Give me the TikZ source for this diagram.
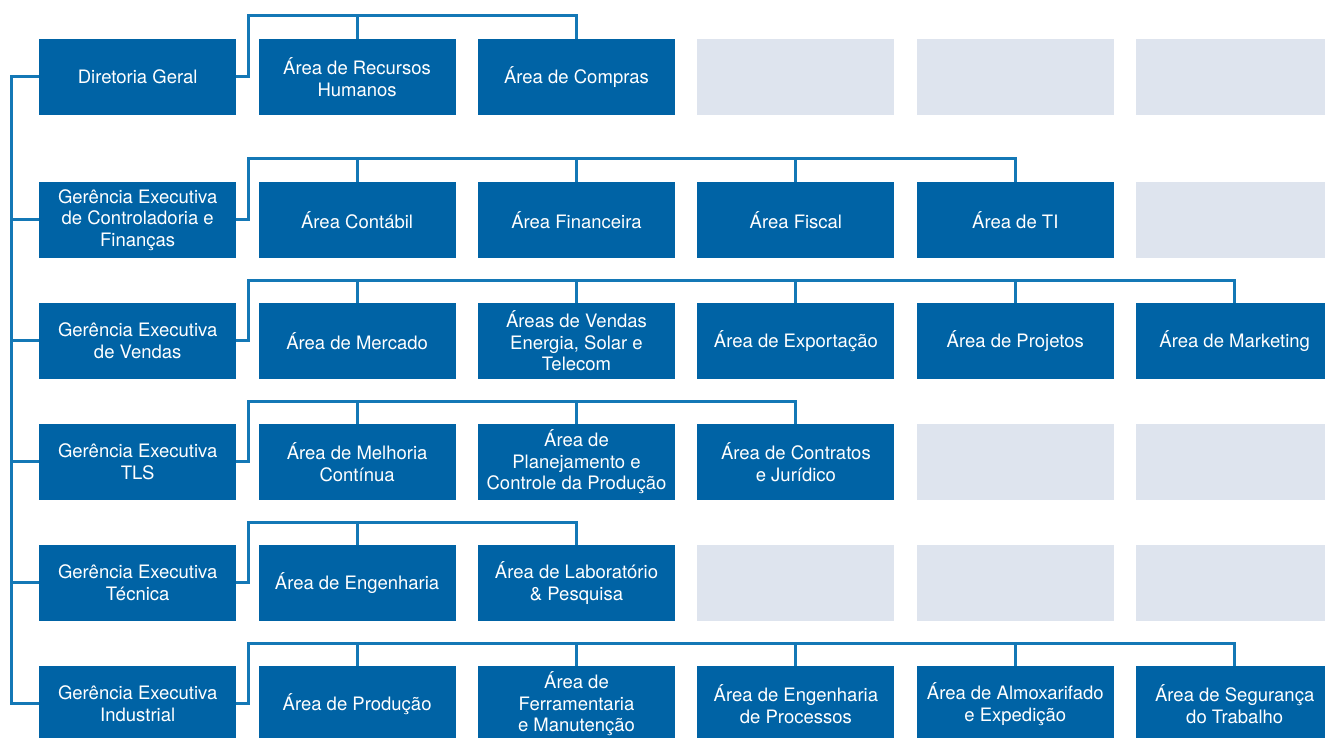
\documentclass[tikz,border=0pt]{standalone}
\usepackage{fontspec}
\setmainfont{TeX Gyre Heros}
\usetikzlibrary{calc}
\definecolor{boxblue}{RGB}{0,99,165}
\definecolor{lineblue}{RGB}{20,120,182}
\definecolor{ghost}{RGB}{222,228,238}
\tikzset{
  box/.style={fill=boxblue, text=white, anchor=north west, minimum width=197pt, minimum height=75.5pt, inner sep=0pt, align=center, font=\fontsize{18.5}{21.5}\selectfont},
  ghostbox/.style={fill=ghost, anchor=north west, minimum width=197pt, minimum height=75.5pt, inner sep=0pt},
  conn/.style={draw=lineblue, line width=3pt}
}
\begin{document}
\begin{tikzpicture}[x=1pt,y=-1pt]
\useasboundingbox (0,0) rectangle (1325,738);
\clip (0,0) rectangle (1325,738);
\def\ca{39}\def\cb{258.4}\def\cc{477.8}\def\cd{697.2}\def\ce{916.6}\def\cf{1136}
\def\ra{39}\def\rb{182}\def\rc{303}\def\rd{424}\def\re{545}\def\rf{666}
% row 1
\node[box] (a1) at (\ca,\ra) {Diretoria Geral};
\node[box] (a2) at (\cb,\ra) {Área de Recursos\\Humanos};
\node[box] (a3) at (\cc,\ra) {Área de Compras};
\node[ghostbox] (a4) at (\cd,\ra) {};
\node[ghostbox] (a5) at (\ce,\ra) {};
\node[ghostbox] (a6) at (\cf,\ra) {};
% row 2
\node[box] (b1) at (\ca,\rb) {Gerência Executiva\\de Controladoria e\\Finanças};
\node[box] (b2) at (\cb,\rb) {Área Contábil};
\node[box] (b3) at (\cc,\rb) {Área Financeira};
\node[box] (b4) at (\cd,\rb) {Área Fiscal};
\node[box] (b5) at (\ce,\rb) {Área de TI};
\node[ghostbox] (b6) at (\cf,\rb) {};
% row 3
\node[box] (c1) at (\ca,\rc) {Gerência Executiva\\de Vendas};
\node[box] (c2) at (\cb,\rc) {Área de Mercado};
\node[box] (c3) at (\cc,\rc) {Áreas de Vendas\\Energia, Solar e\\Telecom};
\node[box] (c4) at (\cd,\rc) {Área de Exportação};
\node[box] (c5) at (\ce,\rc) {Área de Projetos};
\node[box] (c6) at (\cf,\rc) {Área de Marketing};
% row 4
\node[box] (d1) at (\ca,\rd) {Gerência Executiva\\TLS};
\node[box] (d2) at (\cb,\rd) {Área de Melhoria\\Contínua};
\node[box] (d3) at (\cc,\rd) {Área de\\Planejamento e\\Controle da Produção};
\node[box] (d4) at (\cd,\rd) {Área de Contratos\\e Jurídico};
\node[ghostbox] (d5) at (\ce,\rd) {};
\node[ghostbox] (d6) at (\cf,\rd) {};
% row 5
\node[box] (e1) at (\ca,\re) {Gerência Executiva\\Técnica};
\node[box] (e2) at (\cb,\re) {Área de Engenharia};
\node[box] (e3) at (\cc,\re) {Área de Laboratório\\\& Pesquisa};
\node[ghostbox] (e4) at (\cd,\re) {};
\node[ghostbox] (e5) at (\ce,\re) {};
\node[ghostbox] (e6) at (\cf,\re) {};
% row 6
\node[box] (f1) at (\ca,\rf) {Gerência Executiva\\Industrial};
\node[box] (f2) at (\cb,\rf) {Área de Produção};
\node[box] (f3) at (\cc,\rf) {Área de\\Ferramentaria\\e Manutenção};
\node[box] (f4) at (\cd,\rf) {Área de Engenharia\\de Processos};
\node[box] (f5) at (\ce,\rf) {Área de Almoxarifado\\e Expedição};
\node[box] (f6) at (\cf,\rf) {Área de Segurança\\do Trabalho};
% trunk
\coordinate (tr) at (11.5,0);
\draw[conn] (a1.west) -- (a1.west -| tr) -- (f1.west -| tr) -- (f1.west);
\foreach \n in {b1,c1,d1,e1} \draw[conn] (\n.west) -- (\n.west -| tr);
% buses
\coordinate (ba) at (248,\ra-23);
\coordinate (bb) at (248,\rb-23);
\coordinate (bc) at (248,\rc-23);
\coordinate (bd) at (248,\rd-23);
\coordinate (be) at (248,\re-23);
\coordinate (bf) at (248,\rf-23);
\draw[conn] (a1.east) -| (ba) -| (a3.north);
\draw[conn] (a2.north) -- (a2.north |- ba);
\draw[conn] (b1.east) -| (bb) -| (b5.north);
\foreach \n in {b2,b3,b4} \draw[conn] (\n.north) -- (\n.north |- bb);
\draw[conn] (c1.east) -| (bc) -| (c6.north);
\foreach \n in {c2,c3,c4,c5} \draw[conn] (\n.north) -- (\n.north |- bc);
\draw[conn] (d1.east) -| (bd) -| (d4.north);
\foreach \n in {d2,d3} \draw[conn] (\n.north) -- (\n.north |- bd);
\draw[conn] (e1.east) -| (be) -| (e3.north);
\draw[conn] (e2.north) -- (e2.north |- be);
\draw[conn] (f1.east) -| (bf) -| (f6.north);
\foreach \n in {f2,f3,f4,f5} \draw[conn] (\n.north) -- (\n.north |- bf);
\end{tikzpicture}
\end{document}
